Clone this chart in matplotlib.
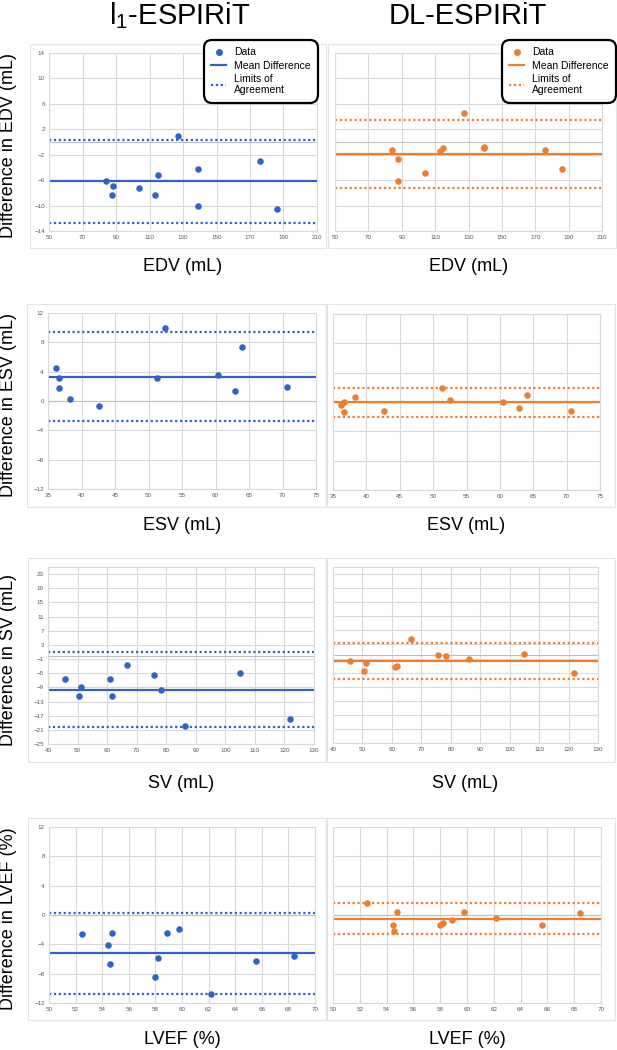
"""
Bland-Altman plots comparing l1-ESPIRiT and DL-ESPIRiT against reference
"""

import numpy as np
import matplotlib.pyplot as plt
from matplotlib.patches import Rectangle
from matplotlib.lines import Line2D

plt.rcParams['font.family'] = ['Liberation Sans', 'DejaVu Sans']

W, H = 617, 1050   # figure size in pixels
BLUE = '#2F63C6'
ORANGE = '#ED7D31'
GRID = '#D9D9D9'

# ---- data ----
edv = [84, 87.5, 88, 103.8, 113, 114.8, 127.3, 139, 139.1, 175.7, 186.2]
edv_diff_l1 = [-6.2, -8.3, -6.9, -7.2, -8.3, -5.2, 1.0, -4.2, -10.05, -3.0, -10.6]
edv_diff_dl = [-1.3, -6.1, -2.6, -4.8, -1.4, -0.9, 4.5, -0.8, -1.0, -1.3, -4.3]
edv_stats_l1 = [-6.2, 0.3, -12.7]    # mean, upper LoA, lower LoA
edv_stats_dl = [-1.85, 3.5, -7.2]

esv = [36.2, 36.65, 36.7, 38.3, 42.6, 51.3, 52.5, 60.4, 62.9, 64.0, 70.7]
esv_diff_l1 = [4.5, 3.1, 1.8, 0.27, -0.7, 3.1, 9.95, 3.6, 1.4, 7.3, 1.95]
esv_diff_dl = [-0.4, -0.05, -1.3, 0.65, -1.2, 1.9, 0.3, 0.05, -0.8, 1.0, -1.2]
esv_stats_l1 = [3.3, 9.35, -2.7]
esv_stats_dl = [-0.05, 1.9, -2.1]

sv = [45.7, 50.5, 51.1, 61.0, 61.6, 66.6, 75.8, 78.4, 86.3, 105.0, 122.0]
sv_diff_l1 = [-6.65, -11.5, -8.8, -6.65, -11.45, -2.8, -5.6, -9.75, -20.0, -5.05, -17.85]
sv_diff_dl = [-1.66, -4.5, -2.3, -3.35, -3.0, 4.65, 0.1, -0.15, -1.0, 0.3, -5.2]
sv_stats_l1 = [-9.66, 0.9, -20.2]
sv_stats_dl = [-1.66, 3.5, -6.9]

lvef = [52.5, 54.45, 54.58, 54.77, 57.98, 58.22, 58.9, 59.79, 62.15, 65.6, 68.42]
lvef_diff_l1 = [-2.55, -4.1, -6.66, -2.46, -8.48, -5.88, -2.42, -1.87, -10.76, -6.25, -5.65]
lvef_diff_dl = [1.64, -1.36, -2.23, 0.36, -1.36, -1.14, -0.73, 0.45, -0.4, -1.3, 0.3]
lvef_stats_l1 = [-5.15, 0.32, -10.72]
lvef_stats_dl = [-0.5, 1.64, -2.64]

titles = ['l$_\\mathregular{1}$-ESPIRiT', 'DL-ESPIRiT']
xlabels = ['EDV (mL)', 'ESV (mL)', 'SV (mL)', 'LVEF (%)']
ylabels = ['Difference in EDV (mL)', 'Difference in ESV (mL)',
           'Difference in SV (mL)', 'Difference in LVEF (%)']
xticks = [np.arange(50, 211, 20), np.arange(35, 76, 5),
          np.arange(40, 131, 10), np.arange(50, 71, 2)]
yticks = [np.arange(-14, 15, 4), np.arange(-12, 13, 4),
          np.arange(-25, 24, 4), np.arange(-12, 13, 4)]
ylims = [(-14, 14), (-12, 12), (-25, 25), (-12, 12)]


def px_rect(x0, y0, x1, y1):
    """
    Converts a pixel box (top-left origin) into figure coordinates
    """
    return [x0 / W, 1 - y1 / H, (x1 - x0) / W, (y1 - y0) / H]


def bland_altman(ax, x, diff, stats, color, xt, yt, ylim, show_y=True):
    """
    Draws one Bland-Altman panel in an Excel-like style
    """
    ax.set_xlim(xt[0], xt[-1])
    ax.set_ylim(ylim)
    ax.set_xticks(xt)
    ax.set_yticks(yt)
    ax.grid(True, color=GRID, lw=0.8)
    ax.set_axisbelow(True)
    ax.axhline(0, color='#BFBFBF', lw=0.8, zorder=1)
    for s in ax.spines.values():
        s.set_color(GRID)
        s.set_linewidth(0.8)
    ax.tick_params(length=0, labelsize=4.5, labelcolor='#595959', pad=3)
    if not show_y:
        ax.set_yticklabels([])
    ax.axhline(stats[0], color=color, lw=1.6, zorder=2)
    ax.axhline(stats[1], color=color, lw=1.6, ls=(0, (1, 1.2)), zorder=2)
    ax.axhline(stats[2], color=color, lw=1.6, ls=(0, (1, 1.2)), zorder=2)
    ax.scatter(x, diff, s=22, color=color, zorder=3, lw=0)


fig = plt.figure(figsize=(W / 100, H / 100), dpi=100)

# plot area boxes in pixels (left col, right col) and chart boxes
plot_boxes = [
    [(49, 53, 317, 231), (335, 53, 602, 231)],
    [(48, 313, 316, 489), (333, 314, 600, 490)],
    [(48, 567, 314, 744), (333, 567, 598, 743)],
    [(49, 827, 315, 1003), (333, 827, 601, 1003)],
]
chart_boxes = [
    [(30, 44, 326, 248), (328, 44, 616, 248)],
    [(27, 304, 326, 507), (327, 304, 615, 507)],
    [(28, 558, 326, 762), (327, 558, 615, 762)],
    [(28, 818, 326, 1020), (327, 818, 615, 1020)],
]
xlabel_y = [266, 525, 783, 1040]

rows = [
    (edv, edv_diff_l1, edv_diff_dl, edv_stats_l1, edv_stats_dl),
    (esv, esv_diff_l1, esv_diff_dl, esv_stats_l1, esv_stats_dl),
    (sv, sv_diff_l1, sv_diff_dl, sv_stats_l1, sv_stats_dl),
    (lvef, lvef_diff_l1, lvef_diff_dl, lvef_stats_l1, lvef_stats_dl),
]

axes = []
for r, (x, d1, d2, s1, s2) in enumerate(rows):
    for c in range(2):
        cb = chart_boxes[r][c]
        fig.patches.append(Rectangle((cb[0] / W, 1 - cb[3] / H), (cb[2] - cb[0]) / W,
                                     (cb[3] - cb[1]) / H, transform=fig.transFigure,
                                     fill=False, edgecolor='#E3E3E3', lw=0.8))
        ax = fig.add_axes(px_rect(*plot_boxes[r][c]))
        if c == 0:
            bland_altman(ax, x, d1, s1, BLUE, xticks[r], yticks[r], ylims[r])
        else:
            bland_altman(ax, x, d2, s2, ORANGE, xticks[r], yticks[r], ylims[r], show_y=False)
        pb = plot_boxes[r][c]
        fig.text((pb[0] + pb[2]) / 2 / W, 1 - xlabel_y[r] / H, xlabels[r],
                 ha='center', va='center', fontsize=13)
        axes.append(ax)
    pb = plot_boxes[r][0]
    fig.text(9 / W, 1 - ((pb[1] + pb[3]) / 2 + 4) / H, ylabels[r], rotation=90,
             ha='center', va='center', fontsize=13)

# column titles, centred over the plot areas
fig.text(180 / W, 1 - 24 / H, titles[0], ha='center', va='baseline', fontsize=21)
fig.text(468 / W, 1 - 24 / H, titles[1], ha='center', va='baseline', fontsize=21)

# legends in the top row
for ax, color, x0 in [(axes[0], BLUE, 201), (axes[1], ORANGE, 499)]:
    handles = [
        Line2D([], [], ls='none', marker='o', ms=4, color=color),
        Line2D([], [], color=color, lw=1.6),
        Line2D([], [], color=color, lw=1.6, ls=(0, (1, 1.2))),
    ]
    leg = fig.legend(handles, ['Data', 'Mean Difference', 'Limits of\nAgreement'],
                     loc='upper left', bbox_to_anchor=(x0 / W, 1 - 37 / H),
                     fontsize=7.5, handlelength=1.4, handletextpad=0.8,
                     labelspacing=0.3, borderpad=0.5, fancybox=True, framealpha=1)
    frame = leg.get_frame()
    frame.set_edgecolor('black')
    frame.set_linewidth(1.6)
    frame.set_boxstyle('round,pad=0.2,rounding_size=0.8')

plt.savefig('out.png', dpi=100)
